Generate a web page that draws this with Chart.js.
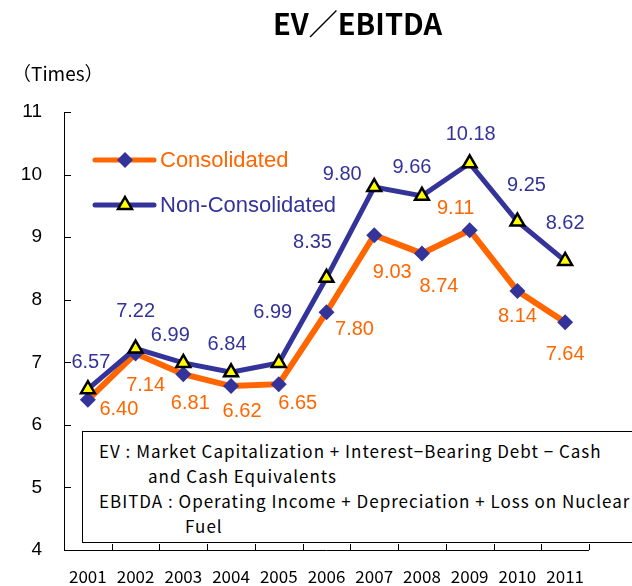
<!DOCTYPE html>
<html>
<head>
<meta charset="utf-8">
<script src="https://cdn.jsdelivr.net/npm/chart.js@4.4.1/dist/chart.umd.min.js"></script>
<style>
  html, body { margin: 0; padding: 0; background: #fff; overflow: hidden; }
  #wrap { position: relative; width: 632px; height: 586px; overflow: hidden; }
  #c { position: absolute; left: 0; top: 0; }
  .ov { position: absolute; white-space: nowrap; color: #000; }
  #title { left: 0; width: 715px; top: 6px; text-align: center; font: bold 29px "Noto Sans CJK JP"; line-height: 32px; }
  #unit { left: 12px; top: 60px; font: 19px "Noto Sans CJK JP"; line-height: 26px; }
  #note { position: absolute; left: 82px; top: 431px; width: 620px; height: 112px; border: 1px solid #000; background: #fff; box-sizing: border-box; }
  .nl { position: absolute; white-space: nowrap; font: 17px "Noto Sans CJK JP"; line-height: 24px; color: #000; letter-spacing: 1px; }
</style>
</head>
<body>
<div id="wrap">
  <canvas id="c" width="632" height="586"></canvas>
  <div id="title" class="ov">EV／EBITDA</div>
  <div id="unit" class="ov">（Times）</div>
  <div id="note">
    <div class="nl" style="left:16px; top:7px;">EV : Market Capitalization + Interest−Bearing Debt − Cash</div>
    <div class="nl" style="left:65px; top:32px;">and Cash Equivalents</div>
    <div class="nl" style="left:16px; top:57px;">EBITDA : Operating Income + Depreciation + Loss on Nuclear</div>
    <div class="nl" style="left:102px; top:82px;">Fuel</div>
  </div>
</div>
<script>
const years = ["2001","2002","2003","2004","2005","2006","2007","2008","2009","2010","2011"];
const consolidated = [6.40, 7.14, 6.81, 6.62, 6.65, 7.80, 9.03, 8.74, 9.11, 8.14, 7.64];
const nonConsolidated = [6.57, 7.22, 6.99, 6.84, 6.99, 8.35, 9.80, 9.66, 10.18, 9.25, 8.62];
const yTicks = [4, 5, 6, 7, 8, 9, 10, 11];

// label placement offsets (pixels relative to each point)
const nonLabelOffsets = [[3,-27],[0,-37],[-13,-27],[-4,-28],[-6,-50],[-14,-35],[-32,-13],[-10,-28],[1,-29],[9,-36],[0,-37]];
const conLabelOffsets = [[31,10],[10,32],[7,29],[11,25],[19,19],[28,17],[18,37],[17,33],[-14,-22],[0,26],[0,32]];

const ORANGE = '#FF6600', NAVY = '#333399', YELLOW = '#FFFF00';

const axesPlugin = {
  id: 'axesPlugin',
  beforeDatasetsDraw(chart) {
    const {ctx, chartArea: a, scales: {x, y}} = chart;
    ctx.save();
    ctx.strokeStyle = '#000';
    ctx.lineWidth = 1;
    ctx.beginPath();
    ctx.moveTo(a.left + 0.5, a.top);
    ctx.lineTo(a.left + 0.5, a.bottom + 0.5);
    ctx.lineTo(a.right, a.bottom + 0.5);
    yTicks.forEach(v => {
      const py = Math.round(y.getPixelForValue(v)) + 0.5;
      ctx.moveTo(a.left, py); ctx.lineTo(a.left + 7, py);
    });
    const w = (a.right - a.left) / years.length;
    for (let i = 1; i <= years.length; i++) {
      const px = Math.round(a.left + i * w) + 0.5;
      ctx.moveTo(px, a.bottom); ctx.lineTo(px, a.bottom - 6);
    }
    ctx.stroke();
    ctx.restore();
  }
};

const labelPlugin = {
  id: 'labelPlugin',
  afterDatasetsDraw(chart) {
    const {ctx} = chart;
    ctx.save();
    ctx.font = '20px "Liberation Sans", Arial';
    ctx.textAlign = 'center';
    ctx.textBaseline = 'middle';
    const draw = (dsIndex, values, offs, color) => {
      const meta = chart.getDatasetMeta(dsIndex);
      ctx.fillStyle = color;
      meta.data.forEach((pt, i) => {
        ctx.fillText(values[i].toFixed(2), pt.x + offs[i][0], pt.y + offs[i][1]);
      });
    };
    draw(0, nonConsolidated, nonLabelOffsets, NAVY);
    draw(1, consolidated, conLabelOffsets, ORANGE);
    ctx.restore();
  }
};

const legendPlugin = {
  id: 'legendPlugin',
  afterDraw(chart) {
    const {ctx} = chart;
    ctx.save();
    const items = [
      {label: 'Consolidated', line: ORANGE, y: 160, marker: 'diamond', text: ORANGE},
      {label: 'Non-Consolidated', line: NAVY, y: 205, marker: 'tri', text: NAVY}
    ];
    items.forEach(it => {
      ctx.strokeStyle = it.line;
      ctx.lineWidth = 5;
      ctx.lineCap = 'round';
      ctx.beginPath();
      ctx.moveTo(95, it.y); ctx.lineTo(154, it.y);
      ctx.stroke();
      const cx = 125;
      if (it.marker === 'diamond') {
        ctx.fillStyle = NAVY;
        ctx.beginPath();
        ctx.moveTo(cx - 8, it.y); ctx.lineTo(cx, it.y - 8); ctx.lineTo(cx + 8, it.y); ctx.lineTo(cx, it.y + 8);
        ctx.closePath(); ctx.fill();
      } else {
        const r = 8;
        ctx.fillStyle = YELLOW; ctx.strokeStyle = '#000'; ctx.lineWidth = 2.5; ctx.lineJoin = 'miter';
        ctx.beginPath();
        ctx.moveTo(cx, it.y - r);
        ctx.lineTo(cx + r * 0.866, it.y + r * 0.5);
        ctx.lineTo(cx - r * 0.866, it.y + r * 0.5);
        ctx.closePath(); ctx.fill(); ctx.stroke();
      }
      ctx.fillStyle = it.text;
      ctx.font = '22px "Liberation Sans", Arial';
      ctx.textAlign = 'left';
      ctx.textBaseline = 'middle';
      ctx.fillText(it.label, 160, it.y + 1);
    });
    ctx.restore();
  }
};

new Chart(document.getElementById('c'), {
  type: 'line',
  data: {
    labels: years,
    datasets: [
      {
        label: 'Non-Consolidated',
        data: nonConsolidated,
        borderColor: NAVY,
        borderWidth: 5,
        pointStyle: 'triangle',
        pointRadius: 8,
        pointBackgroundColor: YELLOW,
        pointBorderColor: '#000',
        pointBorderWidth: 2.5,
        tension: 0
      },
      {
        label: 'Consolidated',
        data: consolidated,
        borderColor: ORANGE,
        borderWidth: 6,
        pointStyle: 'rectRot',
        pointRadius: 8,
        pointBackgroundColor: NAVY,
        pointBorderColor: NAVY,
        pointBorderWidth: 0,
        tension: 0
      }
    ]
  },
  options: {
    responsive: false,
    devicePixelRatio: 1,
    animation: false,
    events: [],
    layout: { padding: { top: 112, right: 43, left: 0, bottom: 0 } },
    plugins: { legend: { display: false }, title: { display: false }, tooltip: { enabled: false } },
    scales: {
      x: {
        type: 'category',
        offset: true,
        grid: { display: false, drawTicks: false },
        border: { display: false },
        ticks: { color: '#000', font: { family: '"Noto Sans CJK JP"', size: 17 }, padding: 16, maxRotation: 0, autoSkip: false },
        afterFit(s) { s.height = 36; }
      },
      y: {
        min: 4, max: 11,
        grid: { display: false, drawTicks: false },
        border: { display: false },
        ticks: { stepSize: 1, color: '#000', font: { family: '"Liberation Sans", Arial', size: 19 }, padding: 22 },
        afterFit(s) { s.width = 64; }
      }
    }
  },
  plugins: [axesPlugin, labelPlugin, legendPlugin]
});
</script>
</body>
</html>
